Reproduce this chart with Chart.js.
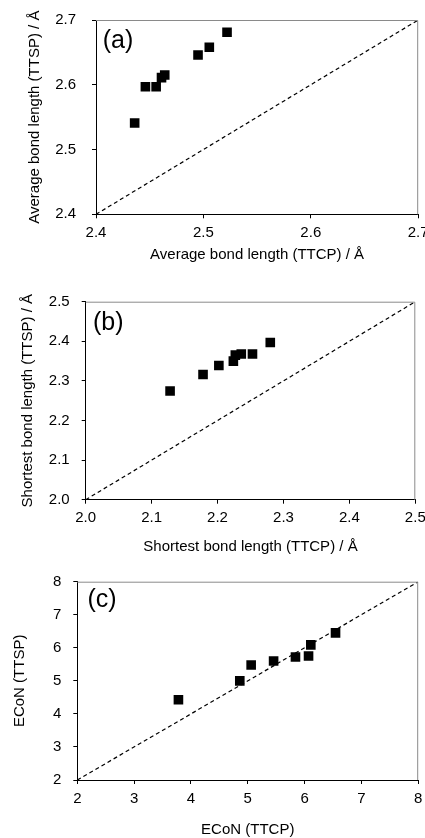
<!DOCTYPE html>
<html>
<head>
<meta charset="utf-8">
<script src="https://cdn.jsdelivr.net/npm/chart.js@4.4.1/dist/chart.umd.min.js"></script>
<style>
  html, body { margin: 0; padding: 0; background: #fff; }
  #wrap { position: relative; width: 425px; height: 838px; overflow: hidden; }
  canvas { position: absolute; left: 0; }
</style>
</head>
<body>
<div id="wrap">
  <canvas id="chartA" width="425" height="270" style="top:0"></canvas>
  <canvas id="chartB" width="425" height="290" style="top:270px"></canvas>
  <canvas id="chartC" width="425" height="278" style="top:560px"></canvas>
</div>
<script>
/* ---- data ---- */
// (a) average bond length
const avgTTCP = [2.436, 2.446, 2.456, 2.461, 2.464, 2.495, 2.5055, 2.522];
const avgTTSP = [2.541, 2.597, 2.597, 2.611, 2.615, 2.646, 2.658, 2.681];
const avgTicks = ['2.4', '2.5', '2.6', '2.7'];

// (b) shortest bond length
const shortTTCP = [2.128, 2.178, 2.202, 2.224, 2.227, 2.236, 2.253, 2.280];
const shortTTSP = [2.2745, 2.316, 2.339, 2.350, 2.365, 2.368, 2.368, 2.397];
const shortTicks = ['2.0', '2.1', '2.2', '2.3', '2.4', '2.5'];

// (c) ECoN
const econTTCP = [3.78, 4.86, 5.06, 5.455, 5.84, 6.07, 6.11, 6.545];
const econTTSP = [4.43, 5.00, 5.48, 5.60, 5.72, 5.75, 6.09, 6.45];
const econTicks = ['2', '3', '4', '5', '6', '7', '8'];

const panelLabels = ['(a)', '(b)', '(c)'];

const FONT = '"Liberation Sans", Arial, sans-serif';
const FS = 15;
const HALF_LINE = FS * 1.2 / 2;

Chart.defaults.font.family = FONT;
Chart.defaults.color = '#000';

// gray top/right frame + panel letter
const framePlugin = {
  id: 'frame',
  afterDraw(chart, args, opts) {
    const { ctx, chartArea: a } = chart;
    ctx.save();
    ctx.strokeStyle = '#8a8a8a';
    ctx.lineWidth = 1;
    ctx.beginPath();
    ctx.moveTo(a.left, a.top + 0.5);
    ctx.lineTo(a.right - 0.5, a.top + 0.5);
    ctx.lineTo(a.right - 0.5, a.bottom);
    ctx.stroke();
    ctx.fillStyle = '#000';
    ctx.font = `25px ${FONT}`;
    ctx.textAlign = 'center';
    ctx.textBaseline = 'middle';
    ctx.fillText(opts.text, a.left + opts.dx, a.top + opts.dy);
    ctx.restore();
  }
};

function makePanel(id, p) {
  const canvas = document.getElementById(id);
  const H = canvas.height;
  const top = p.plotTop - p.canvasTop;
  const bottom = p.plotBottom - p.canvasTop;
  const scaleBottom = p.xTitleY - p.canvasTop + HALF_LINE;
  const xv = p.xTicks.map(Number), yv = p.yTicks.map(Number);
  const pts = p.xs.map((x, i) => ({ x, y: p.ys[i] }));

  return new Chart(canvas.getContext('2d'), {
    type: 'scatter',
    data: {
      datasets: [
        { data: pts, pointStyle: 'rect', pointRadius: 6.8, pointBorderWidth: 0,
          backgroundColor: '#000', borderColor: '#000', order: 1 },
        { data: [{ x: xv[0], y: yv[0] }, { x: xv[xv.length - 1], y: yv[yv.length - 1] }],
          showLine: true, pointRadius: 0, borderColor: '#000', borderWidth: 1.2,
          borderDash: [4, 3], order: 2 },
      ],
    },
    options: {
      responsive: false,
      animation: false,
      events: [],
      layout: { padding: { top, left: 0, right: 425 - p.plotRight, bottom: H - scaleBottom } },
      plugins: {
        legend: { display: false },
        tooltip: { enabled: false },
        frame: { text: p.label, dx: p.labelDx, dy: p.labelDy },
      },
      scales: {
        x: {
          type: 'linear', min: xv[0], max: xv[xv.length - 1],
          afterBuildTicks: s => { s.ticks = xv.map(v => ({ value: v })); },
          afterFit: s => { s.height = scaleBottom - bottom; s.paddingLeft = 0; s.paddingRight = 0; },
          ticks: { callback: (v, i) => p.xTicks[i], font: { size: FS }, color: '#000',
                   padding: 5.5, maxRotation: 0, autoSkip: false },
          grid: { drawOnChartArea: false, tickLength: 4, color: '#000' },
          border: { color: '#000', width: 1 },
          title: { display: true, text: p.xTitle, font: { size: FS }, color: '#000',
                   padding: { top: 0, bottom: 0 } },
        },
        y: {
          type: 'linear', min: yv[0], max: yv[yv.length - 1],
          afterBuildTicks: s => { s.ticks = yv.map(v => ({ value: v })); },
          afterFit: s => { s.width = p.plotLeft; s.paddingTop = 0; s.paddingBottom = 0; },
          ticks: { callback: (v, i) => p.yTicks[i], font: { size: FS }, color: '#000',
                   padding: p.yTickPad, autoSkip: false },
          grid: { drawOnChartArea: false, tickLength: 4, color: '#000' },
          border: { color: '#000', width: 1 },
          title: { display: true, text: p.yTitle, font: { size: FS }, color: '#000',
                   padding: { top: p.yTitleX - HALF_LINE, bottom: 0 } },
        },
      },
    },
    plugins: [framePlugin],
  });
}

makePanel('chartA', {
  xs: avgTTCP, ys: avgTTSP, xTicks: avgTicks, yTicks: avgTicks,
  xTitle: 'Average bond length (TTCP) / Å', yTitle: 'Average bond length (TTSP) / Å',
  label: panelLabels[0], labelDx: 22, labelDy: 21,
  canvasTop: 0, plotLeft: 96, plotRight: 419.3, plotTop: 20, plotBottom: 214.3,
  yTitleX: 35, xTitleY: 255, yTickPad: 16,
});

makePanel('chartB', {
  xs: shortTTCP, ys: shortTTSP, xTicks: shortTicks, yTicks: shortTicks,
  xTitle: 'Shortest bond length (TTCP) / Å', yTitle: 'Shortest bond length (TTSP) / Å',
  label: panelLabels[1], labelDx: 22.6, labelDy: 21.3,
  canvasTop: 270, plotLeft: 85.7, plotRight: 415.3, plotTop: 301.7, plotBottom: 499.7,
  yTitleX: 28, xTitleY: 546.7, yTickPad: 12,
});

makePanel('chartC', {
  xs: econTTCP, ys: econTTSP, xTicks: econTicks, yTicks: econTicks,
  xTitle: 'ECoN (TTCP)', yTitle: 'ECoN (TTSP)',
  label: panelLabels[2], labelDx: 24.7, labelDy: 18.3,
  canvasTop: 560, plotLeft: 77.3, plotRight: 424.1, plotTop: 581.7, plotBottom: 780,
  yTitleX: 20, xTitleY: 830, yTickPad: 12,
});
</script>
</body>
</html>
